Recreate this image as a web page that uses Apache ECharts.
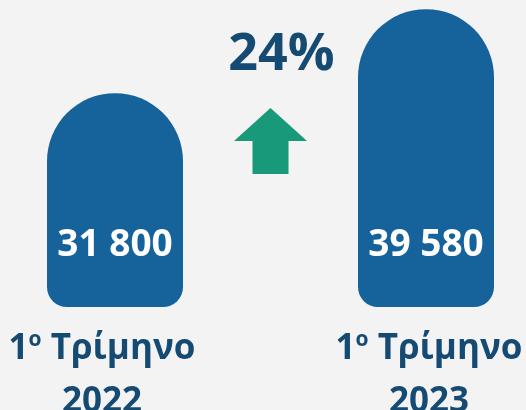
<!DOCTYPE html>
<html>
<head>
<meta charset="utf-8">
<script src="https://cdn.jsdelivr.net/npm/echarts@6/dist/echarts.min.js"></script>
<style>
html,body{margin:0;padding:0;background:#f3f3f3;}
#main{width:526px;height:410px;}
</style>
</head>
<body>
<div id="main"></div>
<script>
const categories = ['1{s|ο} Τρίμηνο\n2022', '1{s|ο} Τρίμηνο\n2023'];
const values = [31800, 39580];
const valueLabels = ['31 800', '39 580'];

const barColor = '#16629a';
const textColor = '#154a73';
const arrowColor = '#17997a';
const FONT = '"Open Sans", "Noto Sans", sans-serif';

const chart = echarts.init(document.getElementById('main'), null, {renderer: 'canvas'});

const option = {
  backgroundColor: '#f3f3f3',
  animation: false,
  grid: {left: -40.5, width: 622, top: 0, height: 307, containLabel: false, outerBoundsMode: 'none'},
  xAxis: {
    type: 'category',
    data: [
      {value: categories[0], textStyle: {padding: [0, 26, 0, 0]}},
      {value: categories[1], textStyle: {padding: [0, 0, 6, 6]}}
    ],
    axisLine: {show: false},
    axisTick: {show: false},
    axisLabel: {
      margin: 16,
      interval: 0,
      hideOverlap: false,
      color: textColor,
      fontFamily: FONT,
      fontWeight: 'bold',
      fontSize: 35,
      lineHeight: 53,
      rich: {
        s: {fontSize: 21, fontFamily: FONT, fontWeight: 'bold', color: textColor, padding: [0, 0, 18, 0], lineHeight: 53}
      }
    }
  },
  yAxis: {
    type: 'value',
    min: 12000,
    max: 40430,
    show: false,
    splitLine: {show: false}
  },
  series: [{
    type: 'bar',
    data: values,
    barWidth: 136,
    itemStyle: {color: barColor, borderRadius: [68, 68, 20, 20]},
    label: {
      show: true,
      position: 'insideBottom',
      distance: 43,
      color: '#ffffff',
      fontFamily: FONT,
      fontWeight: 'bold',
      fontSize: 37,
      formatter: function (p) { return valueLabels[p.dataIndex]; }
    }
  }]
};
chart.setOption(option);

// Growth annotation placed between the two bars
const p0 = chart.convertToPixel({xAxisIndex: 0}, categories[0]);
const p1 = chart.convertToPixel({xAxisIndex: 0}, categories[1]);
const cx = (p0 + p1) / 2;
const pct = Math.round((values[1] - values[0]) / values[0] * 100);
const tipY = 108, headY = 141, baseY = 174, headHalf = 36.5, shaftHalf = 18;
chart.setOption({
  graphic: [
    {
      type: 'polygon',
      shape: {points: [
        [cx, tipY], [cx + headHalf, headY], [cx + shaftHalf, headY],
        [cx + shaftHalf, baseY], [cx - shaftHalf, baseY], [cx - shaftHalf, headY],
        [cx - headHalf, headY]
      ]},
      style: {fill: arrowColor}
    },
    {
      type: 'text',
      x: cx + 11,
      y: 55,
      style: {
        text: pct + '%',
        fill: textColor,
        font: 'bold 52px ' + FONT,
        align: 'center',
        verticalAlign: 'middle'
      }
    }
  ]
});
</script>
</body>
</html>
